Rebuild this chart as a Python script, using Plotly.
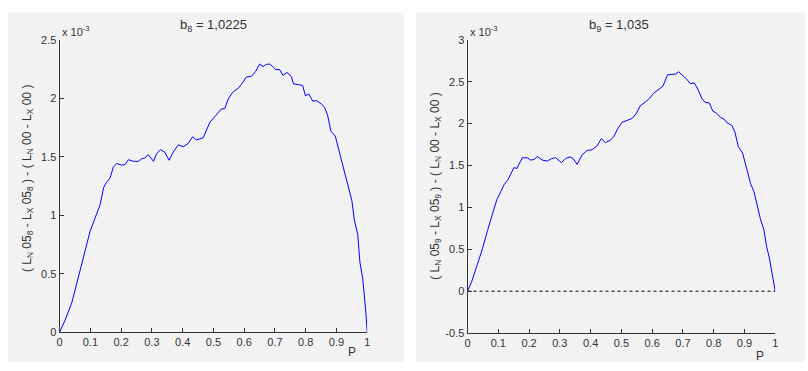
import plotly.graph_objects as go

W, H = 808, 371

# ---- data (values in units of 1e-3) ----
p8 = [0, 0.018, 0.040, 0.061, 0.083, 0.099, 0.116, 0.132, 0.143, 0.151, 0.164, 0.175, 0.186, 0.202,
      0.213, 0.224, 0.240, 0.256, 0.267, 0.277, 0.288, 0.305, 0.315, 0.328, 0.342, 0.356, 0.369,
      0.386, 0.402, 0.418, 0.432, 0.445, 0.467, 0.477, 0.488, 0.504, 0.526, 0.537, 0.548, 0.562,
      0.580, 0.591, 0.607, 0.623, 0.637, 0.650, 0.661, 0.672, 0.683, 0.693, 0.702, 0.715, 0.726,
      0.739, 0.753, 0.760, 0.774, 0.790, 0.799, 0.810, 0.823, 0.834, 0.850, 0.861, 0.871, 0.882,
      0.896, 0.909, 0.920, 0.931, 0.942, 0.950, 0.958, 0.969, 0.976, 0.985, 0.994, 1.0]
v8 = [0, 0.102, 0.254, 0.461, 0.696, 0.862, 0.986, 1.091, 1.235, 1.276, 1.318, 1.414, 1.442, 1.428,
      1.434, 1.475, 1.461, 1.461, 1.483, 1.489, 1.519, 1.461, 1.525, 1.561, 1.539, 1.470, 1.539,
      1.602, 1.586, 1.613, 1.671, 1.644, 1.663, 1.718, 1.793, 1.843, 1.909, 1.912, 1.994, 2.050,
      2.086, 2.119, 2.182, 2.188, 2.229, 2.293, 2.271, 2.290, 2.293, 2.271, 2.246, 2.246, 2.196,
      2.221, 2.188, 2.124, 2.119, 2.110, 2.022, 2.036, 1.975, 1.981, 1.953, 1.925, 1.856, 1.718,
      1.677, 1.552, 1.428, 1.318, 1.207, 1.124, 0.959, 0.834, 0.599, 0.461, 0.213, 0]

p9 = [0, 0.013, 0.032, 0.049, 0.065, 0.081, 0.095, 0.108, 0.119, 0.130, 0.140, 0.151, 0.160, 0.171,
      0.178, 0.194, 0.205, 0.216, 0.227, 0.243, 0.259, 0.272, 0.286, 0.305, 0.319, 0.333, 0.343,
      0.356, 0.373, 0.389, 0.405, 0.421, 0.435, 0.448, 0.464, 0.475, 0.488, 0.502, 0.518, 0.535,
      0.548, 0.562, 0.578, 0.592, 0.605, 0.621, 0.635, 0.650, 0.664, 0.677, 0.686, 0.697, 0.711,
      0.724, 0.737, 0.750, 0.761, 0.772, 0.786, 0.797, 0.810, 0.823, 0.834, 0.842, 0.859, 0.869,
      0.880, 0.894, 0.907, 0.920, 0.931, 0.942, 0.952, 0.963, 0.972, 0.981, 0.991, 1.0]
v9 = [0, 0.108, 0.320, 0.513, 0.724, 0.917, 1.091, 1.187, 1.272, 1.322, 1.399, 1.476, 1.464, 1.553,
      1.592, 1.592, 1.565, 1.572, 1.607, 1.565, 1.553, 1.580, 1.595, 1.534, 1.584, 1.603, 1.584,
      1.514, 1.630, 1.680, 1.688, 1.734, 1.823, 1.773, 1.803, 1.842, 1.938, 2.015, 2.035, 2.062,
      2.119, 2.216, 2.258, 2.304, 2.362, 2.412, 2.447, 2.582, 2.590, 2.593, 2.620, 2.586, 2.536,
      2.478, 2.486, 2.401, 2.304, 2.254, 2.247, 2.150, 2.123, 2.073, 2.054, 2.015, 1.977, 1.900,
      1.726, 1.649, 1.476, 1.283, 1.187, 1.013, 0.859, 0.736, 0.532, 0.397, 0.185, 0]

ref_x = [0, 1]
ref_y = [0, 0]

x_ticks = [0, 0.1, 0.2, 0.3, 0.4, 0.5, 0.6, 0.7, 0.8, 0.9, 1]
y_ticks_left = [0, 0.5, 1, 1.5, 2, 2.5]
y_ticks_right = [-0.5, 0, 0.5, 1, 1.5, 2, 2.5, 3]

title_left = "b<sub>8</sub> = 1,0225"
title_right = "b<sub>9</sub> = 1,035"
ylabel_left = "( L<sub>N</sub> 05<sub>8</sub> - L<sub>X</sub> 05<sub>8</sub> ) - ( L<sub>N</sub> 00 - L<sub>X</sub> 00 )"
ylabel_right = "( L<sub>N</sub> 05<sub>9</sub> - L<sub>X</sub> 05<sub>9</sub> ) - ( L<sub>N</sub> 00 - L<sub>X</sub> 00 )"
xlabel = "P"
exp_label = "x 10<sup>-3</sup>"

FONT = "Liberation Sans, Arial, sans-serif"
TXT = "#333333"
BLUE = "#0000ff"


def px(x):
    return x / W


def py(y):
    return 1 - y / H


fig = go.Figure()
fig.add_trace(go.Scatter(x=p8, y=v8, mode="lines", line=dict(color=BLUE, width=1),
                         xaxis="x", yaxis="y", showlegend=False, hoverinfo="skip"))
fig.add_trace(go.Scatter(x=ref_x, y=ref_y, mode="lines", line=dict(color="black", width=1, dash="dot"),
                         xaxis="x2", yaxis="y2", showlegend=False, hoverinfo="skip"))
fig.add_trace(go.Scatter(x=p9, y=v9, mode="lines", line=dict(color=BLUE, width=1),
                         xaxis="x2", yaxis="y2", showlegend=False, hoverinfo="skip"))

axis_common = dict(showgrid=False, zeroline=False, showline=True, linecolor="#333333", linewidth=1,
                   ticks="inside", ticklen=4, tickcolor="#333333", tickwidth=1,
                   tickfont=dict(family=FONT, size=11, color=TXT), mirror=False, fixedrange=True)

# plot areas in pixels
L = dict(x0=57, x1=367, y0=35, y1=337)
R = dict(x0=468, x1=778, y0=35, y1=338)

fig.update_layout(
    width=W, height=H, autosize=False,
    margin=dict(l=0, r=0, t=0, b=0),
    paper_bgcolor="white", plot_bgcolor="white",
    xaxis=dict(domain=[px(L["x0"]), px(L["x1"])], range=[0, 1], tickvals=x_ticks,
               ticktext=[f"{t:g}" for t in x_ticks], anchor="y", **axis_common),
    yaxis=dict(domain=[py(L["y1"]), py(L["y0"])], range=[0, 2.5], tickvals=y_ticks_left,
               ticktext=[f"{t:g}" for t in y_ticks_left], anchor="x", **axis_common),
    xaxis2=dict(domain=[px(R["x0"]), px(R["x1"])], range=[0, 1], tickvals=x_ticks,
                ticktext=[f"{t:g}" for t in x_ticks], anchor="y2", **axis_common),
    yaxis2=dict(domain=[py(R["y1"]), py(R["y0"])], range=[-0.5, 3], tickvals=y_ticks_right,
                ticktext=[f"{t:g}" for t in y_ticks_right], anchor="x2", **axis_common),
)

# gray figure panels
fig.add_shape(type="rect", xref="paper", yref="paper", x0=px(5), x1=px(404), y0=py(368), y1=py(7),
              fillcolor="#f2f2f2", line=dict(width=0), layer="below")
fig.add_shape(type="rect", xref="paper", yref="paper", x0=px(416), x1=px(808), y0=py(368), y1=py(7),
              fillcolor="#f2f2f2", line=dict(width=0), layer="below")


def ann(text, x, y, size, xanchor="center", yanchor="middle", angle=0):
    fig.add_annotation(text=text, x=px(x), y=py(y), xref="paper", yref="paper", showarrow=False,
                       xanchor=xanchor, yanchor=yanchor, textangle=angle,
                       font=dict(family=FONT, size=size, color=TXT))


ann(title_left, 212, 20, 13)
ann(title_right, 621, 20, 13)
ann(exp_label, 57, 26, 11, xanchor="left")
ann(exp_label, 468, 26, 11, xanchor="left")
ann(ylabel_left, 25, 178, 12, angle=-90)
ann(ylabel_right, 436, 186, 12, angle=-90)
ann(xlabel, 352, 358, 12)
ann(xlabel, 763, 362, 12)

fig.write_html("out.html",
               config={"displayModeBar": False},
               post_script="document.body.style.margin='0px';document.body.style.padding='0px';"
                           "document.documentElement.style.overflow='hidden';")
